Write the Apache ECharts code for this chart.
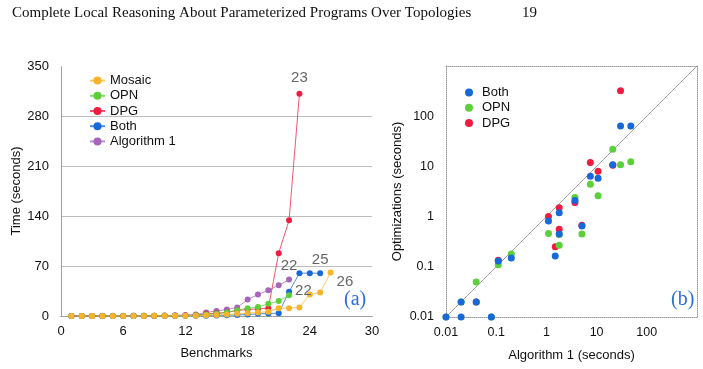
<!DOCTYPE html>
<html>
<head>
<meta charset="utf-8">
<script src="https://cdn.jsdelivr.net/npm/echarts@6/dist/echarts.min.js"></script>
<style>html,body{margin:0;background:#fff}#chart{width:703px;height:369px}</style>
</head>
<body>
<div id="chart"></div>
<script>
// left plot: time per benchmark, one value per benchmark index (1..n)
const mosaic = [0.1, 0.1, 0.1, 0.1, 0.1, 0.1, 0.1, 0.1, 0.2, 0.2, 0.3, 0.3, 0.5, 1, 1.5, 2, 3, 4, 5, 6, 11, 11, 12, 30, 33, 61];
const opn = [0.1, 0.1, 0.1, 0.1, 0.1, 0.1, 0.1, 0.2, 0.2, 0.3, 0.4, 0.5, 1, 2, 3, 5, 8, 11, 12.5, 17, 21, 29];
const dpg = [0.1, 0.1, 0.1, 0.1, 0.1, 0.1, 0.2, 0.2, 0.3, 0.4, 0.5, 0.7, 1, 3, 4, 5, 8, 9, 10, 11, 88, 134, 311];
const both = [0.1, 0.1, 0.1, 0.1, 0.1, 0.1, 0.1, 0.1, 0.1, 0.2, 0.2, 0.3, 0.4, 0.5, 0.8, 1, 1.5, 2, 3, 3.5, 4, 34, 60, 60, 60];
const algo1 = [0.1, 0.1, 0.1, 0.2, 0.2, 0.2, 0.3, 0.3, 0.5, 0.8, 1, 1.5, 2, 5, 7, 9, 12, 23, 30, 36, 43, 51];

// right plot: Algorithm 1 time (x) vs optimization time (y)
const bothX = [0.01, 0.02, 0.08, 0.02, 0.04, 0.11, 0.2, 1.1, 1.8, 1.8, 1.5, 3.7, 5.1, 7.5, 10.7, 21, 30, 48];
const bothY = [0.01, 0.01, 0.01, 0.02, 0.02, 0.13, 0.15, 0.82, 1.2, 0.45, 0.165, 2.1, 0.65, 6.4, 5.8, 10.8, 64, 64];
const opnX = [0.01, 0.08, 0.02, 0.04, 0.11, 0.2, 1.1, 1.8, 1.8, 3.7, 5.1, 7.5, 10.7, 21, 30, 48];
const opnY = [0.01, 0.01, 0.02, 0.05, 0.11, 0.18, 0.46, 0.27, 0.44, 2.4, 0.45, 4.4, 2.6, 22, 10.8, 12.4];
const dpgX = [0.04, 0.11, 1.1, 1.8, 1.8, 1.5, 3.7, 5.1, 7.5, 10.7, 21, 30];
const dpgY = [0.02, 0.135, 1.0, 1.5, 0.56, 0.25, 1.9, 0.67, 12, 8, 10.5, 320];
const diagX = [0.01, 1000];
const diagY = [0.01, 1000];

const timeTicks = [0, 70, 140, 210, 280, 350];
const logTicks = ['0.01', '0.1', '1', '10', '100'];

const C = {mosaic: '#f6b42c', opn: '#5ccf3b', dpg: '#ee1d40', both: '#1769d9', algo: '#a566b9'};
const FONT = '"Liberation Sans", Arial, sans-serif';
const dotted = {show: true, lineStyle: {color: '#9a9a9a', type: 'dotted', width: 1}};

function lineSeries(name, values, color, endLabel){
  return {
    name, type: 'line', xAxisIndex: 0, yAxisIndex: 0,
    symbol: 'circle', symbolSize: 6, color,
    lineStyle: {width: 1, opacity: 0.75},
    data: values.map((v, i) => i === values.length - 1
      ? {value: [i + 1, v], label: Object.assign({show: true, formatter: String(values.length),
          color: '#666', fontSize: 15, fontFamily: FONT}, endLabel)}
      : [i + 1, v])
  };
}

function scatterSeries(name, xs, ys, color){
  return {
    name, type: 'scatter', xAxisIndex: 1, yAxisIndex: 1,
    symbolSize: 7, color, itemStyle: {opacity: 1},
    data: xs.map((x, i) => [x, ys[i]])
  };
}

const logLabel = (v) => {
  const s = String(parseFloat(Number(v).toPrecision(2)));
  return logTicks.includes(s) ? s : '';
};

const chart = echarts.init(document.getElementById('chart'), null, {renderer: 'canvas'});
chart.setOption({
  animation: false,
  textStyle: {fontFamily: FONT},
  title: [
    {text: 'Complete Local Reasoning About Parameterized Programs Over Topologies', left: 12, top: 6, padding: 0,
     textStyle: {fontFamily: '"Liberation Serif", serif', fontWeight: 'normal', fontSize: 15, color: '#111'}},
    {text: '19', left: 522, top: 6, padding: 0,
     textStyle: {fontFamily: '"Liberation Serif", serif', fontWeight: 'normal', fontSize: 15, color: '#111'}},
    {text: '(a)', left: 344, top: 290, padding: 0,
     textStyle: {fontFamily: '"Liberation Serif", serif', fontWeight: 'normal', fontSize: 20, color: '#2c6fd6'}},
    {text: '(b)', left: 671, top: 290, padding: 0,
     textStyle: {fontFamily: '"Liberation Serif", serif', fontWeight: 'normal', fontSize: 20, color: '#2c6fd6'}}
  ],
  grid: [
    {left: 61, top: 66, width: 311, height: 250},
    {left: 446, top: 66, width: 251, height: 251}
  ],
  legend: [
    {data: ['Mosaic', 'OPN', 'DPG', 'Both', 'Algorithm 1'], orient: 'vertical', left: 89, top: 73,
     itemWidth: 15, itemHeight: 10, itemGap: 0, padding: 0,
     textStyle: {fontSize: 13, lineHeight: 15.2, color: '#111'}},
    {data: ['Both ', 'OPN ', 'DPG '], orient: 'vertical', left: 465, top: 85,
     icon: 'circle', itemWidth: 8, itemHeight: 8, itemGap: 0, padding: 0,
     textStyle: {fontSize: 13, lineHeight: 15.2, color: '#111', padding: [0, 0, 0, 4]}}
  ],
  xAxis: [
    {gridIndex: 0, type: 'value', min: 0, max: 30, interval: 6,
     axisLine: dotted, axisTick: {show: false}, splitLine: {show: false},
     axisLabel: {fontSize: 13, color: '#111', margin: 9},
     name: 'Benchmarks', nameLocation: 'middle', nameGap: 31, nameTextStyle: {fontSize: 13, color: '#111'}},
    {gridIndex: 1, type: 'log', logBase: 10, min: 0.01, max: 1000,
     axisLine: dotted, axisTick: {show: false}, splitLine: {show: false}, minorTick: {show: false},
     axisLabel: {fontSize: 12.5, color: '#111', margin: 9, formatter: logLabel},
     name: 'Algorithm 1 (seconds)', nameLocation: 'middle', nameGap: 32, nameTextStyle: {fontSize: 13, color: '#111'}},
    {gridIndex: 0, type: 'value', position: 'top', min: 0, max: 30,
     axisLine: dotted, axisTick: {show: false}, axisLabel: {show: false}, splitLine: {show: false}},
    {gridIndex: 1, type: 'value', position: 'top', min: 0, max: 1,
     axisLine: dotted, axisTick: {show: false}, axisLabel: {show: false}, splitLine: {show: false}}
  ],
  yAxis: [
    {gridIndex: 0, type: 'value', min: timeTicks[0], max: timeTicks[timeTicks.length - 1], interval: 70,
     axisLine: dotted, axisTick: {show: false},
     splitLine: {show: true, lineStyle: {color: timeTicks.map((t, i) => i === 0 || i === timeTicks.length - 1 ? 'rgba(0,0,0,0)' : '#bdbdbd'), width: 1}},
     axisLabel: {fontSize: 13, color: '#111', margin: 12},
     name: 'Time (seconds)', nameLocation: 'middle', nameGap: 34, nameTextStyle: {fontSize: 13, color: '#111'}},
    {gridIndex: 1, type: 'log', logBase: 10, min: 0.01, max: 1000,
     axisLine: dotted, axisTick: {show: false}, splitLine: {show: false}, minorTick: {show: false},
     axisLabel: {fontSize: 12.5, color: '#111', margin: 12, formatter: logLabel},
     name: 'Optimizations (seconds)', nameLocation: 'middle', nameGap: 42, nameTextStyle: {fontSize: 13, color: '#111'}},
    {gridIndex: 0, type: 'value', position: 'right', min: 0, max: 1,
     axisLine: dotted, axisTick: {show: false}, axisLabel: {show: false}, splitLine: {show: false}},
    {gridIndex: 1, type: 'value', position: 'right', min: 0, max: 1,
     axisLine: dotted, axisTick: {show: false}, axisLabel: {show: false}, splitLine: {show: false}}
  ],
  series: [
    lineSeries('Algorithm 1', algo1, C.algo, {position: 'top', distance: 3}),
    lineSeries('Both', both, C.both, {position: 'top', distance: 3}),
    lineSeries('DPG', dpg, C.dpg, {position: 'top', distance: 5}),
    lineSeries('OPN', opn, C.opn, {position: 'right', distance: 3, offset: [0, -4]}),
    lineSeries('Mosaic', mosaic, C.mosaic, {position: 'right', distance: 3, offset: [0, 9]}),
    {type: 'line', xAxisIndex: 1, yAxisIndex: 1, silent: true, symbol: 'none', z: 1,
     lineStyle: {color: '#8c8c8c', width: 0.8},
     data: diagX.map((x, i) => [x, diagY[i]])},
    scatterSeries('DPG ', dpgX, dpgY, C.dpg),
    scatterSeries('OPN ', opnX, opnY, C.opn),
    scatterSeries('Both ', bothX, bothY, C.both)
  ]
});
</script>
</body>
</html>
